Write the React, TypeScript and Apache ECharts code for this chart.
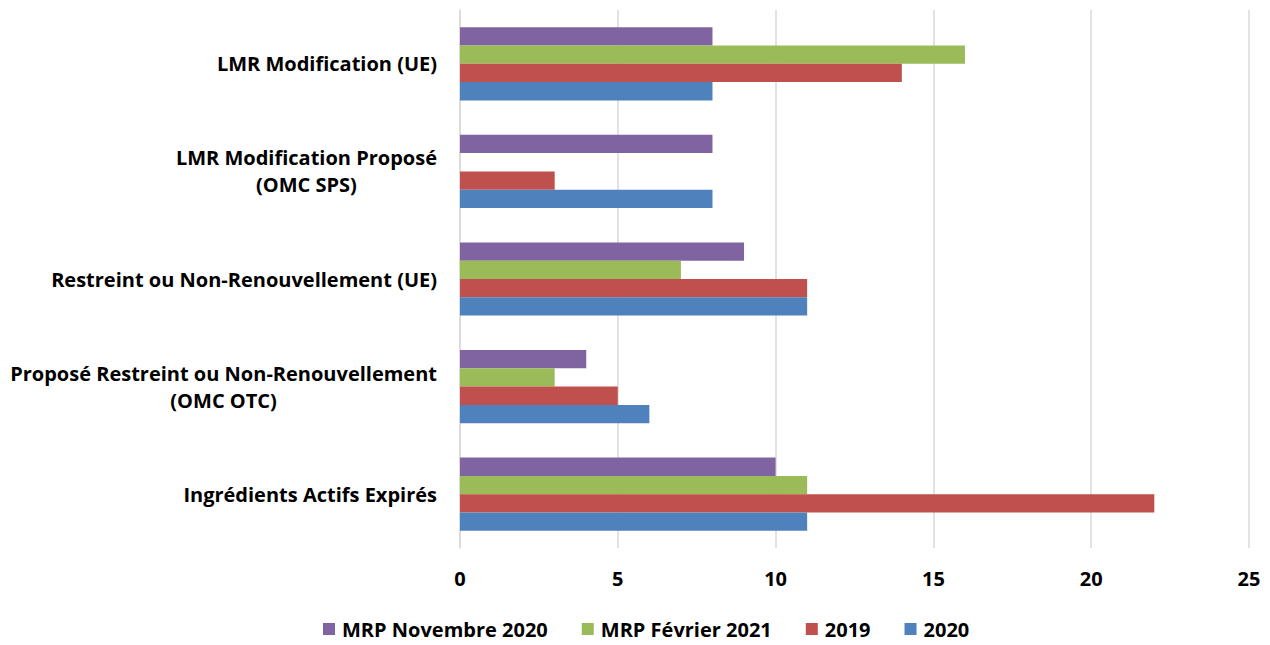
import React, { useEffect, useRef } from "react";
import * as echarts from "echarts";

// categories listed bottom to top
const categories = [
  "Ingrédients Actifs Expirés",
  "Proposé Restreint ou Non-Renouvellement\n(OMC OTC)",
  "Restreint ou Non-Renouvellement (UE)",
  "LMR Modification Proposé\n(OMC SPS)",
  "LMR Modification (UE)",
];

const seriesNames = ["MRP Novembre 2020", "MRP Février 2021", "2019", "2020"];
const novembre2020 = [10, 4, 9, 8, 8];
const fevrier2021 = [11, 3, 7, null, 16];
const y2019 = [22, 5, 11, 3, 14];
const y2020 = [11, 6, 11, 8, 8];

const colors: Record<string, string> = {
  "MRP Novembre 2020": "#8064A2",
  "MRP Février 2021": "#9BBB59",
  "2019": "#C0504D",
  "2020": "#4F81BD",
};

const xTicks = { min: 0, max: 25, interval: 5 };

const FONT = "'Open Sans', sans-serif";
const FS = 20;

export default function App() {
  const ref = useRef<HTMLDivElement>(null);
  useEffect(() => {
    if (!ref.current) return;
    const chart = echarts.init(ref.current, undefined, { renderer: "svg" });
    const dataMap: Record<string, (number | null)[]> = {
      "MRP Novembre 2020": novembre2020,
      "MRP Février 2021": fevrier2021,
      "2019": y2019,
      "2020": y2020,
    };
    chart.setOption({
      animation: false,
      textStyle: { fontFamily: FONT },
      grid: { left: 460, right: 21, top: 10, bottom: 97, containLabel: false },
      legend: {
        data: seriesNames,
        bottom: 1,
        left: 318,
        itemWidth: 12,
        itemHeight: 12,
        itemGap: 34,
        icon: "rect",
        textStyle: {
          fontFamily: FONT,
          fontWeight: "bold",
          fontSize: FS,
          color: "#000",
          padding: [0, 0, 0, 2],
        },
      },
      xAxis: {
        type: "value",
        min: xTicks.min,
        max: xTicks.max,
        interval: xTicks.interval,
        axisLine: { show: false },
        axisTick: { show: false },
        splitLine: { show: true, lineStyle: { color: "#d9d9d9", width: 1.5 } },
        axisLabel: { fontFamily: FONT, fontWeight: "bold", fontSize: FS, color: "#000", margin: 20 },
      },
      yAxis: {
        type: "category",
        data: categories,
        axisLine: { show: true, lineStyle: { color: "#d9d9d9", width: 1.5 } },
        axisTick: { show: false },
        axisLabel: {
          margin: 23,
          formatter: (v: string) =>
            v
              .split("\n")
              .map((l) => `{a|${l}}`)
              .join("\n"),
          rich: {
            a: {
              fontFamily: FONT,
              fontWeight: "bold",
              fontSize: FS,
              color: "#000",
              align: "center",
              lineHeight: 27,
            },
          },
        },
      },
      series: seriesNames.map((name) => ({
        name,
        type: "bar",
        data: dataMap[name],
        barGap: "0%",
        barCategoryGap: "32%",
        itemStyle: { color: colors[name] },
      })),
    });
    return () => chart.dispose();
  }, []);
  return (
    <div
      ref={ref}
      style={{ position: "absolute", left: 0, top: 0, width: 1270, height: 645 }}
    />
  );
}
